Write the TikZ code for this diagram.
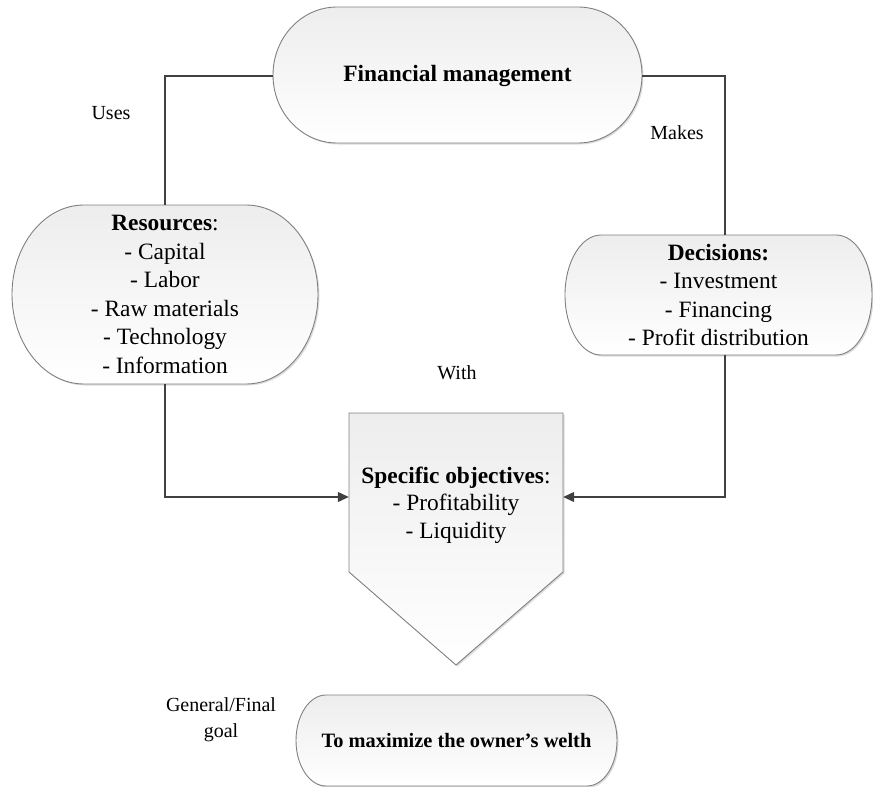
\documentclass[tikz,border=0pt]{standalone}
\usepackage{fontspec}
\setmainfont{Liberation Serif}
\usetikzlibrary{arrows.meta,shadows}
\newcommand\termshape[5]{% cx cy w h rx
  \path[shp] ({#1-#3/2+#5},{#2-#4/2}) -- ({#1+#3/2-#5},{#2-#4/2})
    arc[start angle=-90,end angle=90,x radius=#5,y radius={#4/2}]
    -- ({#1-#3/2+#5},{#2+#4/2})
    arc[start angle=90,end angle=270,x radius=#5,y radius={#4/2}] -- cycle;}
\begin{document}
\begin{tikzpicture}[x=1pt,y=-1pt,
  shp/.style={draw=black!50, line width=0.9pt, top color=black!7, bottom color=white,
    drop shadow={shadow xshift=1.5pt,shadow yshift=-1.5pt,fill=black!30,opacity=0.45}},
  txt/.style={align=center, inner sep=0pt, font=\fontsize{23.4}{28.6}\selectfont},
  lbl/.style={align=center, inner sep=0pt, font=\fontsize{20}{26}\selectfont},
  conn/.style={draw=black!75, line width=1.1pt},
  arr/.style={conn, -{Triangle[length=11pt,width=10pt]}}]
\useasboundingbox (0,0) rectangle (873,787);

% shapes
\termshape{457.5}{75}{369}{136}{64}
\termshape{165}{294.5}{306}{179}{72}
\termshape{718.5}{295}{307}{120}{36}
\path[shp] (349,413) -- (563,413) -- (563,572) -- (456,665) -- (349,572) -- cycle;
\termshape{456.5}{740.5}{321}{91}{30}

% nodes
\node[txt, font=\bfseries\fontsize{23.4}{28.6}\selectfont, minimum width=369pt, minimum height=136pt] (fm) at (457.5,76) {Financial management};
\node[txt, minimum width=306pt, minimum height=179pt] (res) at (165,294.5)
  {\textbf{Resources}:\\- Capital\\- Labor\\- Raw materials\\- Technology\\- Information};
\node[txt, minimum width=307pt, minimum height=120pt] (dec) at (718.5,295)
  {\textbf{Decisions:}\\- Investment\\- Financing\\- Profit distribution};
\node[txt, font=\fontsize{23.4}{27.5}\selectfont, minimum width=214pt] (obj) at (456,505)
  {\textbf{Specific objectives}:\\- Profitability\\- Liquidity};
\node[txt, font=\bfseries\fontsize{20.4}{25}\selectfont, minimum width=321pt, minimum height=91pt] (goal) at (456.5,741)
  {To maximize the owner’s welth};

% labels
\node[lbl] (uses) at (111,113) {Uses};
\node[lbl] (makes) at (677,133) {Makes};
\node[lbl] (with) at (457,373) {With};
\node[lbl] (gen) at (221,720) {General/Final\\goal};

% connectors
\coordinate (ay) at (0,497);
\draw[conn] (res.north) |- (fm.west);
\draw[conn] ([xshift=6.5pt]dec.north) |- (fm.east);
\draw[arr] (res.south) |- (obj.west |- ay);
\draw[arr] ([xshift=6.5pt]dec.south) |- (obj.east |- ay);
\end{tikzpicture}
\end{document}
